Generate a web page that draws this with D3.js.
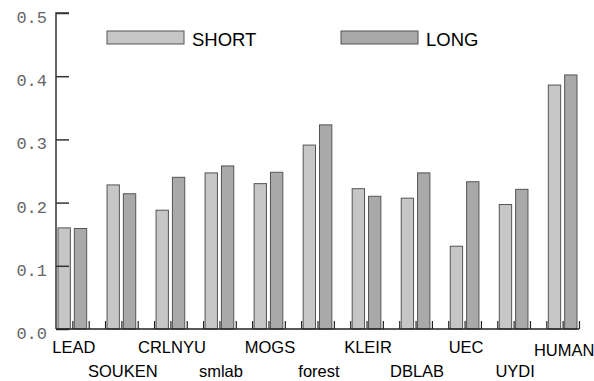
<!DOCTYPE html>
<html>
<head>
<meta charset="utf-8">
<script src="https://cdn.jsdelivr.net/npm/d3@7"></script>
<style>
  html, body { margin: 0; padding: 0; background: #fff; }
  svg { display: block; }
</style>
</head>
<body>
<svg id="chart" width="594" height="381"></svg>
<script>
const categories = ["LEAD","SOUKEN","CRLNYU","smlab","MOGS","forest","KLEIR","DBLAB","UEC","UYDI","HUMAN"];
const shortValues = [0.160, 0.228, 0.188, 0.247, 0.230, 0.291, 0.222, 0.207, 0.131, 0.197, 0.386];
const longValues  = [0.159, 0.214, 0.240, 0.258, 0.248, 0.323, 0.210, 0.247, 0.233, 0.221, 0.402];
const seriesNames = ["SHORT", "LONG"];
const yTicks = [0.0, 0.1, 0.2, 0.3, 0.4, 0.5];

(function () {
const colors = ["#c6c6c6", "#a9a9a9"];
const stroke = "#555";

const svg = d3.select("#chart");
const pl = 56, pr = 579, pt = 13, pb = 329;
const nSlots = categories.length * 3 - 1;
const slotW = (pr - pl) / nSlots;

const y = d3.scaleLinear().domain([0, 0.5]).range([pb, pt]);
const x0 = d3.scaleBand().domain(categories).range([pl, pl + slotW * categories.length * 3]).padding(0);
const x1 = d3.scaleBand().domain(seriesNames).range([0, slotW * 2]).padding(0);

// bars
const series = [shortValues, longValues];
seriesNames.forEach((s, si) => {
  svg.append("g").selectAll("rect")
    .data(categories.map((c, i) => ({c, v: series[si][i]})))
    .join("rect")
    .attr("x", d => x0(d.c) + x1(s) + 2)
    .attr("width", x1.bandwidth() - 4)
    .attr("y", d => y(d.v))
    .attr("height", d => y(0) - y(d.v))
    .attr("fill", colors[si])
    .attr("stroke", stroke)
    .attr("stroke-width", 1);
});

// y axis
const yAxis = d3.axisRight(y).tickValues(yTicks).tickSize(13).tickFormat("");
const gy = svg.append("g").attr("transform", `translate(${pl},0)`).call(yAxis);
gy.select(".domain").attr("stroke", "#333").attr("stroke-width", 1.5).attr("d", `M13,${pt}H0V${pb}`);
gy.selectAll(".tick line").attr("stroke", "#333").attr("stroke-width", 1.5);

svg.append("g").selectAll("text")
  .data(yTicks).join("text")
  .attr("x", 47).attr("y", d => y(d) + 10)
  .attr("text-anchor", "end")
  .attr("font-family", "'Liberation Mono', 'Courier New', monospace")
  .attr("font-size", 17)
  .attr("fill", "#666")
  .text(d => d3.format(".1f")(d));

// x axis
const slotScale = d3.scaleLinear().domain([0, nSlots]).range([pl, pr]);
const xAxis = d3.axisTop(slotScale).tickValues(d3.range(1, nSlots + 1)).tickSize(8).tickFormat("");
const gx = svg.append("g").attr("transform", `translate(0,${pb})`).call(xAxis);
gx.select(".domain").attr("stroke", "#222").attr("stroke-width", 1.5).attr("d", `M${pl},0H${pr}`);
gx.selectAll(".tick line").attr("stroke", "#222").attr("stroke-width", 1.2);

// category labels
svg.append("g").selectAll("text")
  .data(categories).join("text")
  .attr("x", d => x0(d) + slotW + 1.5)
  .attr("y", (d, i) => (i % 2 === 0 ? 352.5 : 377) + (i === categories.length - 1 ? 3.5 : 0))
  .attr("text-anchor", "middle")
  .attr("font-family", "'Liberation Sans', Arial, sans-serif")
  .attr("font-size", 16.5)
  .attr("fill", "#000")
  .text(d => d);

// legend
const legendX = [107, 341];
seriesNames.forEach((s, si) => {
  const g = svg.append("g").attr("transform", `translate(${legendX[si]},31)`);
  g.append("rect").attr("x", 0).attr("y", 0).attr("width", 77).attr("height", 13)
    .attr("fill", colors[si]).attr("stroke", stroke).attr("stroke-width", 1);
  g.append("text").attr("x", 85).attr("y", 14.5)
    .attr("font-family", "'Liberation Sans', Arial, sans-serif")
    .attr("font-size", 18.5).attr("fill", "#000").text(s);
});
})();
</script>
</body>
</html>
